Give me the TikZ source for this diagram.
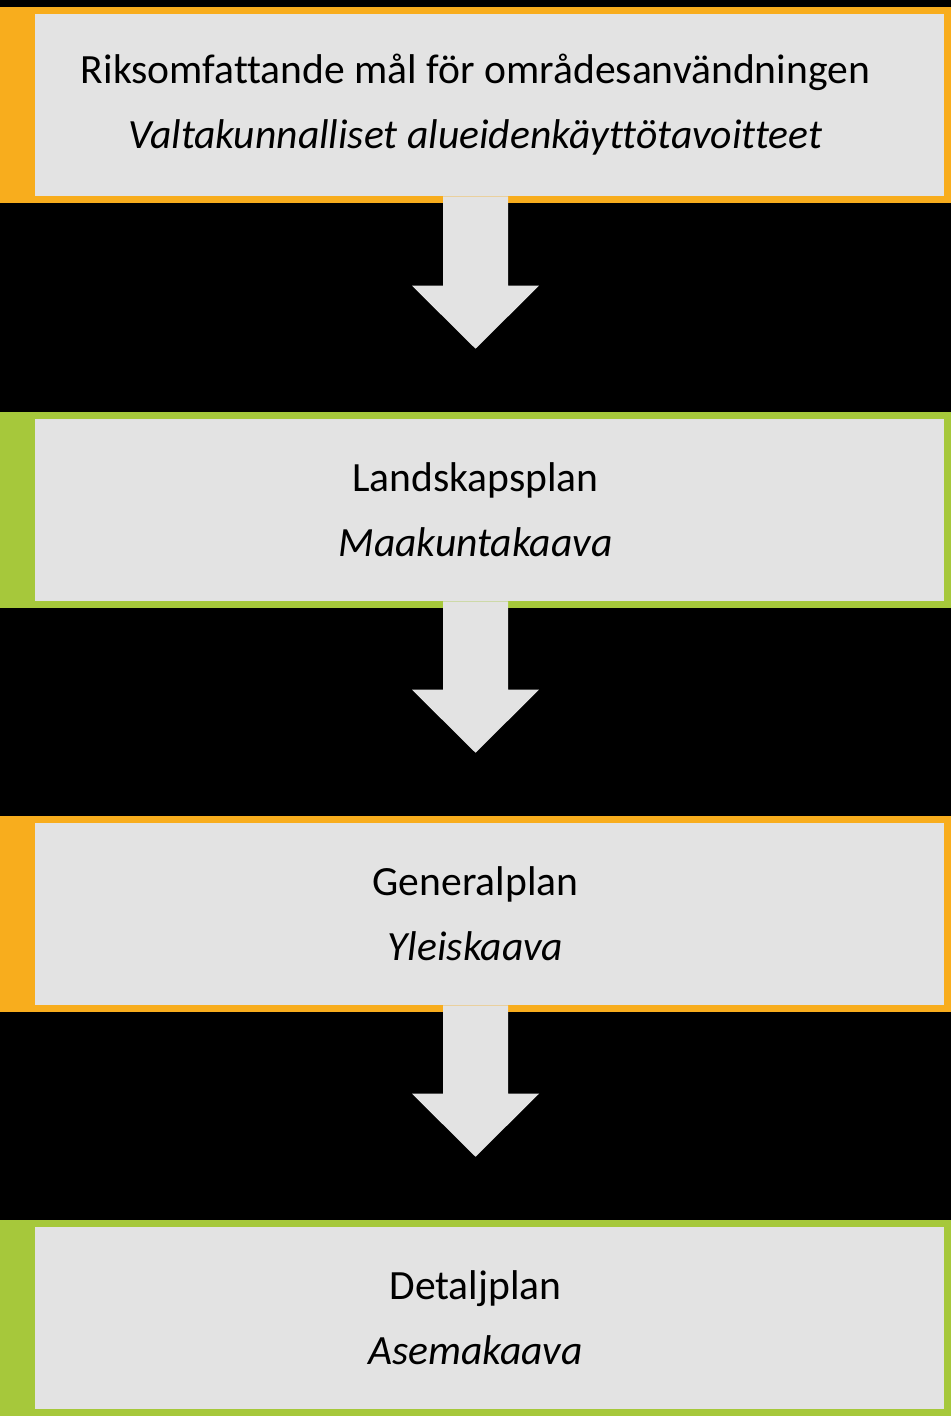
\documentclass[tikz,border=0pt]{standalone}
\usepackage{fontspec}
\setmainfont{Carlito}[Ligatures=NoCommon]
\usetikzlibrary{calc}
\definecolor{orng}{HTML}{F8AD1D}
\definecolor{grn}{HTML}{A6C83B}
\definecolor{boxgray}{HTML}{E3E3E3}
\tikzset{
  planbox/.style={fill=#1, minimum width=713.25pt, minimum height=147pt, inner sep=0pt,
    align=center, font=\fontsize{31.2}{48.75}\selectfont,
    path picture={\fill[boxgray] ($(path picture bounding box.south west)+(35,-7)$) rectangle ($(path picture bounding box.north east)+(-7,7)$);}},
  arrowfill/.style={fill=boxgray}
}
\newcommand\planarrow[2]{%
  \fill[arrowfill] ($(#1.south)+(-32.5,-7)$) -- ($(#2.north)+(-32.5,-126)$) -- ($(#2.north)+(-63.5,-126)$) -- ($(#2.north)+(0,-63)$) -- ($(#2.north)+(63.5,-126)$) -- ($(#2.north)+(32.5,-126)$) -- ($(#1.south)+(32.5,-7)$) -- cycle;}
\begin{document}
\begin{tikzpicture}[x=0.75pt,y=-0.75pt]
\fill[black] (0,0) rectangle (951,1416);
\useasboundingbox (0,0) rectangle (951,1416);
\node[planbox=orng] (b1) at (475.5,105) {Riksomfattande mål för områdesanvändningen\\\textit{Valtakunnalliset alueidenkäyttötavoitteet}};
\node[planbox=grn] (b2) at (475.5,510) {Landskapsplan\\\textit{Maakuntakaava}};
\node[planbox=orng] (b3) at (475.5,914) {Generalplan\\\textit{Yleiskaava}};
\node[planbox=grn] (b4) at (475.5,1318) {Detaljplan\\\textit{Asemakaava}};
\planarrow{b1}{b2}
\planarrow{b2}{b3}
\planarrow{b3}{b4}
\end{tikzpicture}
\end{document}
